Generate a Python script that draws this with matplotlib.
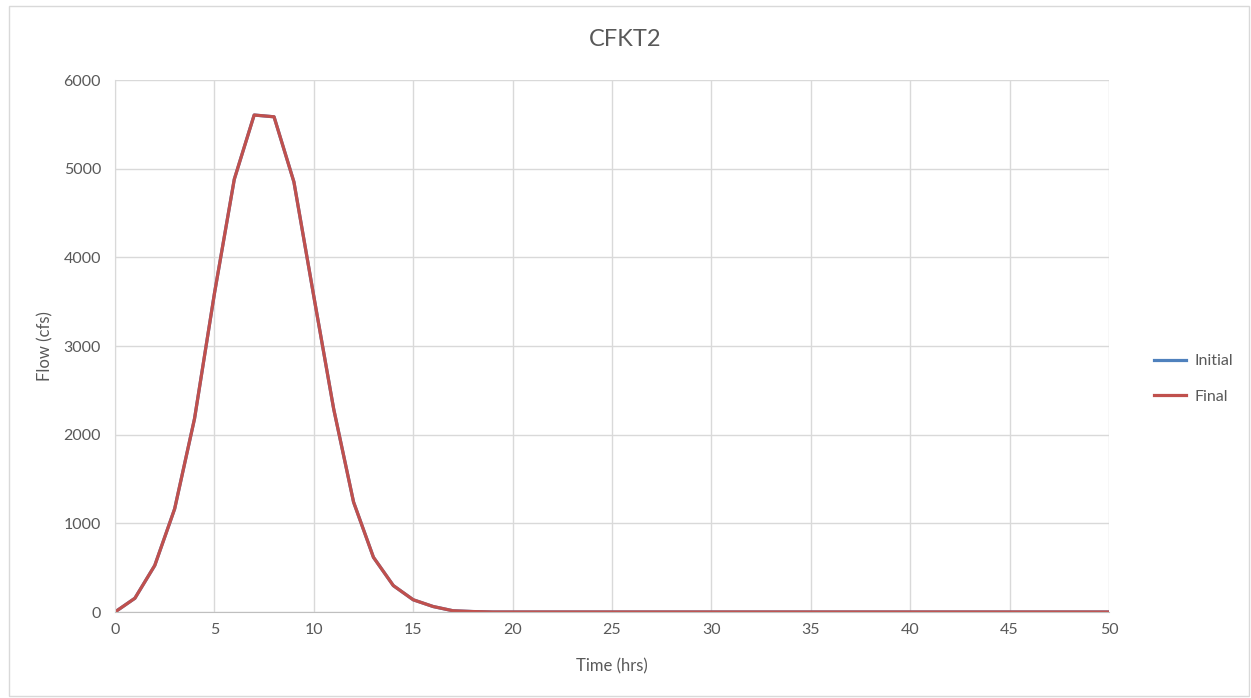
import matplotlib
matplotlib.use("Agg")
import matplotlib.pyplot as plt
from matplotlib.patches import Rectangle

plt.rcParams['font.family'] = ['Lato', 'DejaVu Sans']

hours = list(range(0, 51))
final_head = [0, 155, 525, 1163, 2180, 3590, 4880, 5605, 5585, 4850,
              3560, 2290, 1240, 617, 298, 138, 62, 14, 5, 0]
final = final_head + [0] * (len(hours) - len(final_head))
initial = list(final)

title = "CFKT2"
xlabel = "Time (hrs)"
ylabel = "Flow (cfs)"
xticks = list(range(0, 51, 5))
yticks = list(range(0, 6001, 1000))

W, H = 1251, 698
fig = plt.figure(figsize=(W / 100, H / 100), dpi=100)
ax = fig.add_axes([115 / W, 1 - 612 / H, (1109 - 115) / W, (612 - 80) / H])

fig.patches.append(Rectangle((9 / W, 2 / H), (1249 - 9) / W, (692 - 2) / H,
                             transform=fig.transFigure, fill=False,
                             edgecolor='#D9D9D9', linewidth=1.0))

ax.plot(hours, initial, color='#4F81BD', linewidth=2.3, label='Initial',
        solid_joinstyle='round')
ax.plot(hours, final, color='#C0504D', linewidth=2.3, label='Final',
        solid_joinstyle='round')

ax.set_xlim(0, 50)
ax.set_ylim(0, 6000)
ax.set_xticks(xticks)
ax.set_yticks(yticks)
ax.grid(True, color='#D9D9D9', linewidth=1.0)
ax.set_axisbelow(True)
for s in ['top', 'right']:
    ax.spines[s].set_visible(False)
ax.spines['left'].set_color('#D9D9D9')
ax.spines['bottom'].set_color('#BFBFBF')
ax.tick_params(length=0, labelsize=11.5, labelcolor='#595959', pad=8)
ax.tick_params(axis='y', pad=10)

fig.text(0.5, 1 - 40 / H, title, ha='center', va='center', fontsize=17,
         color='#595959')
fig.text(612 / W, 1 - 666 / H, xlabel, ha='center', va='center', fontsize=12,
         color='#595959')
fig.text(45 / W, 1 - 346 / H, ylabel, ha='center', va='center', fontsize=12,
         color='#595959', rotation=90)

leg = ax.legend(loc='center left', bbox_to_anchor=(1140 / W, 1 - 379 / H),
                bbox_transform=fig.transFigure, frameon=False, fontsize=11.5,
                labelcolor='#595959', handlelength=2.0, handletextpad=0.5,
                labelspacing=1.35)

fig.savefig('out.png', dpi=100)
